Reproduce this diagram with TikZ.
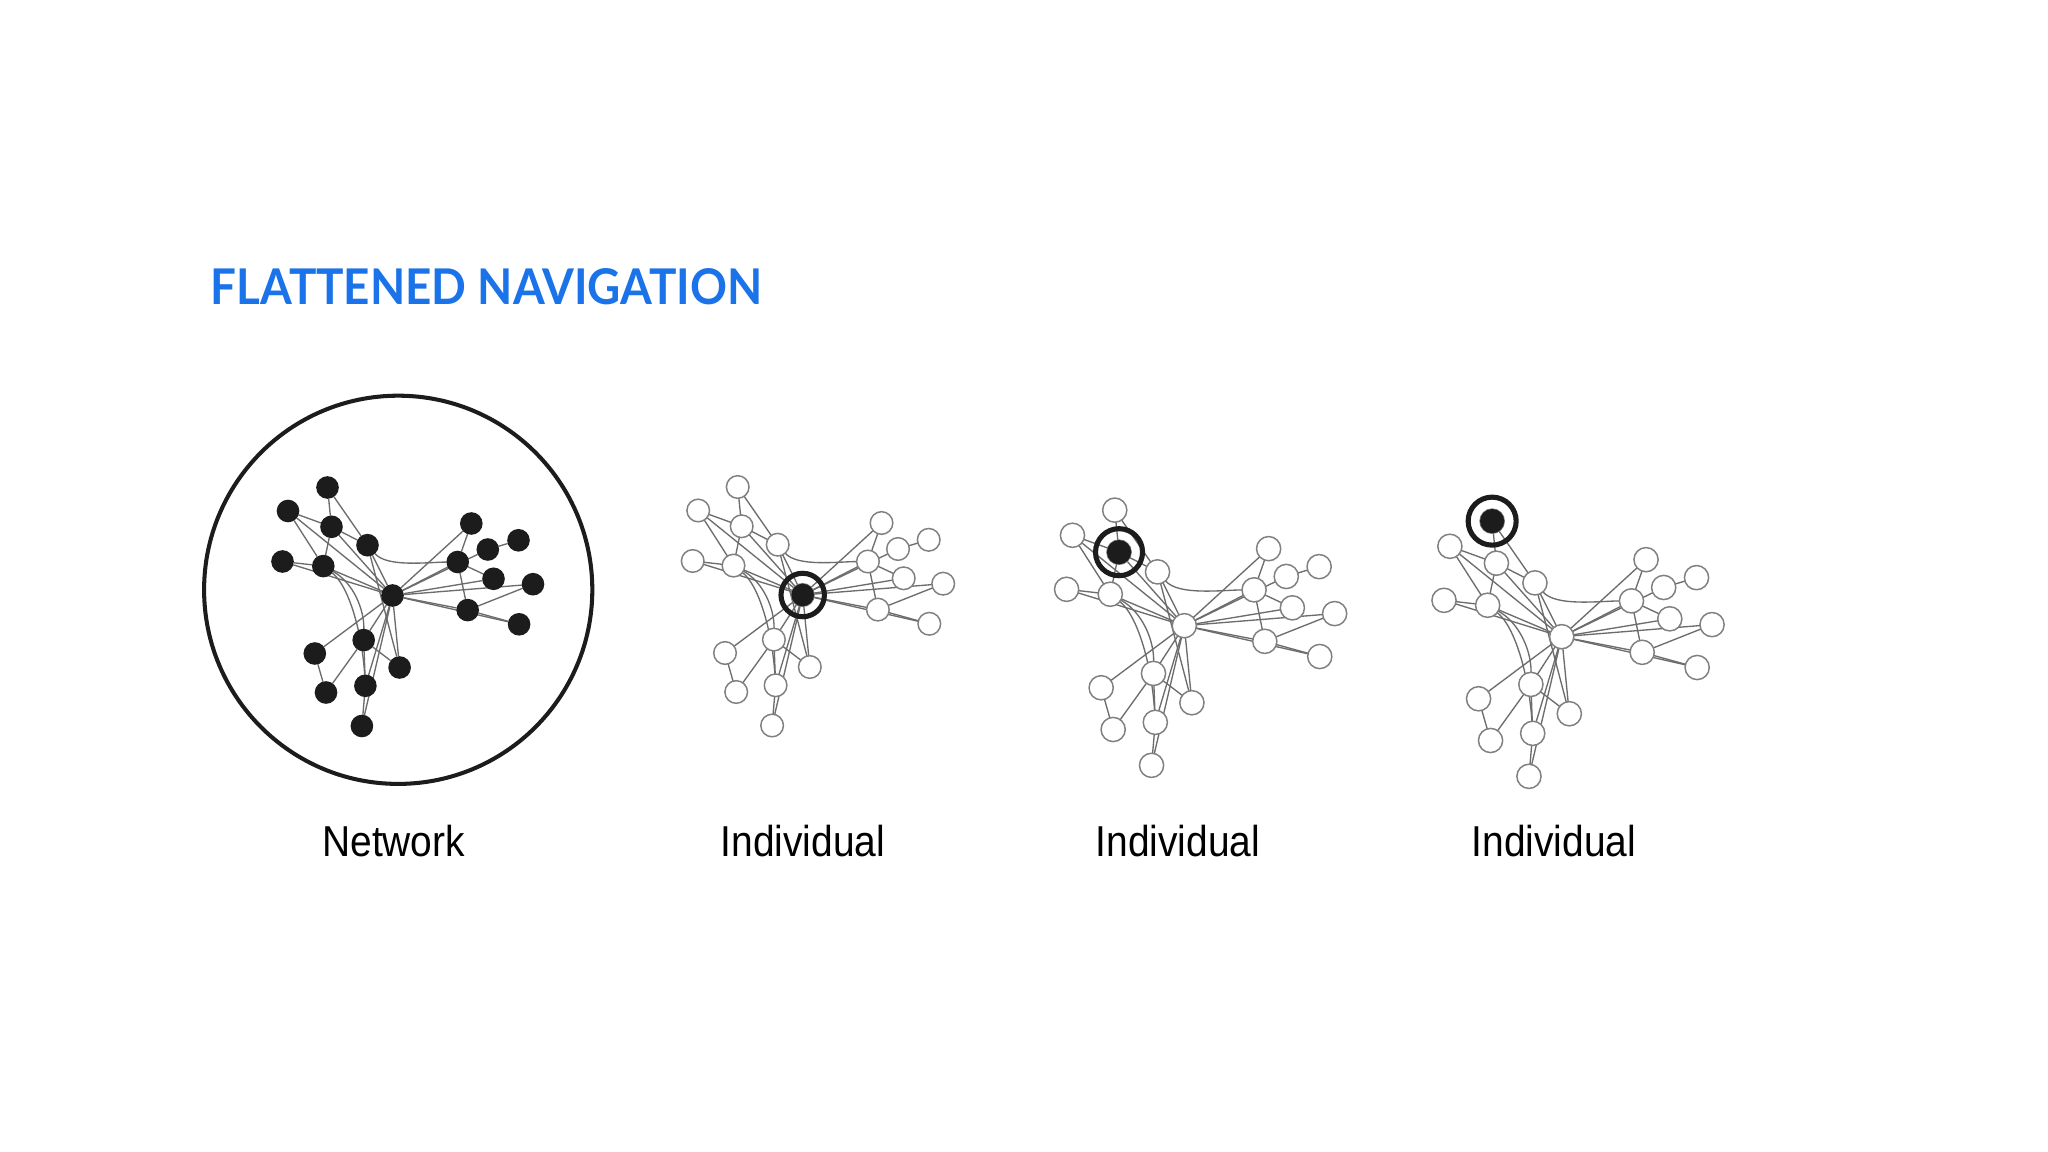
\documentclass[tikz,border=0pt]{standalone}
\usepackage{fontspec}
\setmainfont{Liberation Sans}
\newfontfamily\titlefont{Lato}
\usetikzlibrary{backgrounds}
\definecolor{gblue}{RGB}{26,115,232}
\definecolor{edgegray}{RGB}{108,108,108}
\definecolor{nodegray}{RGB}{128,128,128}
\definecolor{inkblack}{RGB}{28,28,28}
\tikzset{
  netedge/.style={draw=edgegray, line width=0.38pt},
  blacknode/.style={circle, fill=inkblack, inner sep=0pt, outer sep=0pt},
  whitenode/.style={circle, draw=nodegray, fill=white, line width=0.42pt, inner sep=0pt, outer sep=0pt},
  ringnode/.style={circle, draw=inkblack, line width=1.45pt, inner sep=0pt},
  captext/.style={font=\fontsize{12.3}{14}\selectfont, anchor=base, inner sep=0pt},
  titletext/.style={font=\titlefont\bfseries\fontsize{14}{18}\selectfont, text=gblue, anchor=base west, inner sep=0pt},
}
\newcommand\netgraph[5]{%
  \begin{scope}[shift={(#2,#3)}, scale=#4]
    \foreach \n/\x/\y in {A/-65/-108, B/-104.5/-84.5, C/-61/-68.7, D/-25/-50.3, E/-110/-34, F/-69.2/-29.4, Z/0/0, G/78.8/-72, H/95.3/-46, I/126/-55.2, J/65.2/-33.5, K/101/-16.7, L/140.5/-11.3, M/75.2/14.6, N/126.6/28.8, O/-28.8/44.6, P/-77.7/58, Q/7.1/72, R/-66.5/97, S/-27.1/90.3, T/-30.6/130.5}
      \node[#5, minimum size=#4*0.226cm] (#1\n) at (\x,\y) {};
    \begin{scope}[on background layer]
      \foreach \a/\b in {A/C, A/D, B/C, B/F, B/Z, C/D, C/F, C/Z, D/Z, D/Q, E/F, E/Z, F/Z, Z/G, G/J, Z/J, Z/H, H/I, J/K, J/M, Z/K, Z/L, M/L, Z/M, Z/N, M/N, Z/O, Z/P, Z/Q, Z/S, Z/T, O/Q, O/R, P/R, O/S, S/T}
        \draw[netedge] (#1\a) -- (#1\b);
      \draw[netedge] (#1F) .. controls (-39,-12.7) and (-28.3,14) .. (#1O);
      \draw[netedge] (#1F) .. controls (-44,-10) and (-30.6,35.7) .. (#1S);
      \draw[netedge] (#1D) .. controls (-5.4,-28) and (35,-33.3) .. (#1J);
    \end{scope}
  \end{scope}}
\begin{document}
\begin{tikzpicture}[x=0.01cm, y=-0.01cm]
  \useasboundingbox (0,0) rectangle (2048,1152);
  \begin{scope}[on background layer]
    \fill[white] (0,0) rectangle (2048,1152);
  \end{scope}
  \node[titletext] (title) at (210,304.5) {\scalebox{0.93}[1]{FLATTENED NAVIGATION}};

  % Network
  \node[circle, draw=inkblack, line width=1.15pt, minimum size=3.88cm, inner sep=0pt] (netcircle) at (398.2,589.8) {};
  \netgraph{a}{392.5}{595.5}{1}{blacknode}
  \node[captext] (lnet) at (393.7,856.5) {\scalebox{0.9}[1]{Network}};

  % Individual 1
  \netgraph{b}{802.7}{595}{1}{whitenode}
  \node[blacknode, minimum size=0.226cm] (bdot) at (bZ) {};
  \node[ringnode, minimum size=0.434cm] (bring) at (bZ) {};
  \node[captext] (lind1) at (803,856.5) {\scalebox{0.9}[1]{Individual}};

  % Individual 2
  \netgraph{c}{1184.3}{625.7}{1.07}{whitenode}
  \node[blacknode, minimum size=0.242cm] (cdot) at (cC) {};
  \node[ringnode, minimum size=0.47cm] (cring) at (cC) {};
  \node[captext] (lind2) at (1178,856.5) {\scalebox{0.9}[1]{Individual}};

  % Individual 3
  \netgraph{d}{1561.7}{636.7}{1.07}{whitenode}
  \node[blacknode, minimum size=0.242cm] (ddot) at (dA) {};
  \node[ringnode, minimum size=0.48cm] (dring) at (dA) {};
  \node[captext] (lind3) at (1554,856.5) {\scalebox{0.9}[1]{Individual}};
\end{tikzpicture}
\end{document}
